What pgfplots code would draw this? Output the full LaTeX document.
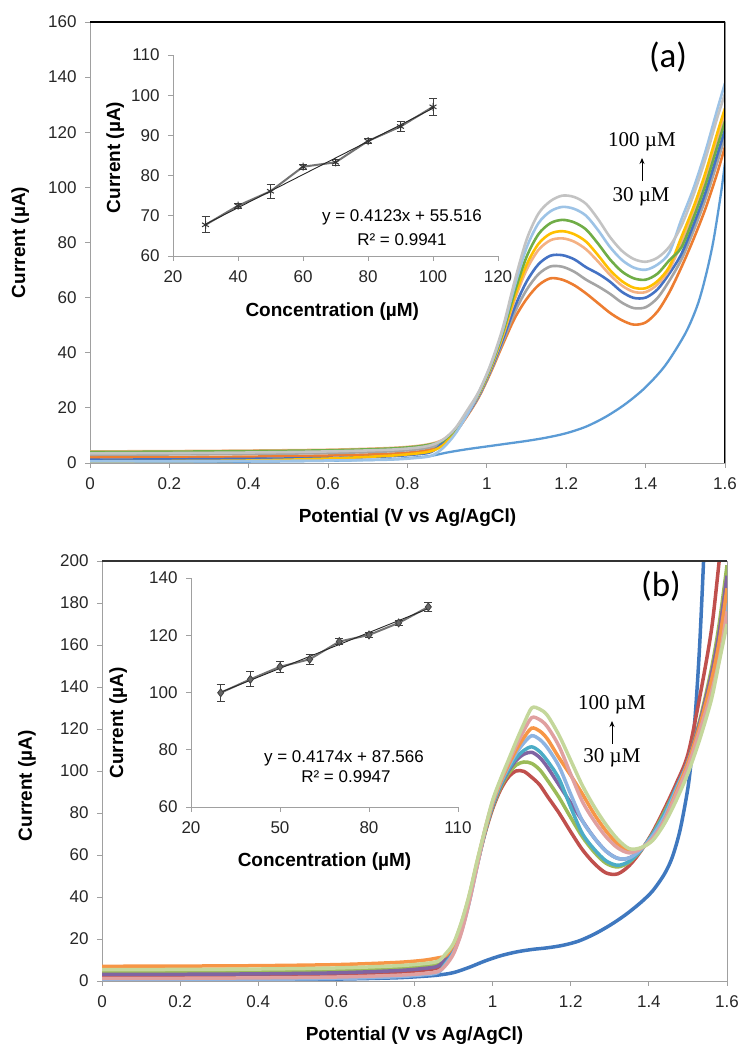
\documentclass[border=0pt]{standalone}
\usepackage{pgfplots}
\usepackage{pgfplotstable}
\pgfplotsset{compat=1.18}
\usetikzlibrary{arrows.meta}
\usepackage{fontspec}
\setmainfont{Liberation Sans}
\newfontfamily\seriffont{Liberation Serif}
\newfontfamily\calibfont{Carlito}

% panel (a) colours
\definecolor{aBlank}{HTML}{5B9BD5}
\definecolor{aOrange}{HTML}{ED7D31}
\definecolor{aGray}{HTML}{A5A5A5}
\definecolor{aBlue}{HTML}{4472C4}
\definecolor{aPink}{HTML}{F4B183}
\definecolor{aYellow}{HTML}{FFC000}
\definecolor{aGreen}{HTML}{70AD47}
\definecolor{aLBlue}{HTML}{9DC3E6}
\definecolor{aLGray}{HTML}{C3C3C3}
% panel (b) colours
\definecolor{bBlank}{HTML}{3F78BF}
\definecolor{bRed}{HTML}{C0504D}
\definecolor{bGreen}{HTML}{9BBB59}
\definecolor{bPurple}{HTML}{8064A2}
\definecolor{bTeal}{HTML}{4BACC6}
\definecolor{bLBlue}{HTML}{8DB4E2}
\definecolor{bOrange}{HTML}{F79646}
\definecolor{bPink}{HTML}{E0A0A0}
\definecolor{bLGreen}{HTML}{C4D79B}
\definecolor{axgray}{HTML}{A0A0A0}

\pgfplotstableread{
V     c30   c40   c50   c60   c70   c80   c90   c100
0.00  2.0   3.0   1.2   4.2   0.6   4.0   0.6   3.5
0.20  2.1   3.1   1.3   4.3   0.7   4.1   0.6   3.6
0.40  2.3   3.3   1.5   4.5   0.9   4.3   0.7   3.8
0.60  2.7   3.6   1.8   4.8   1.6   4.6   0.9   4.2
0.75  3.3   4.2   2.4   5.4   2.6   5.2   1.2   4.8
0.82  4.0   4.9   3.1   6.1   3.4   5.9   1.8   5.5
0.86  5.0   5.8   4.0   7.0   4.3   6.8   2.6   6.5
0.89  7.0   7.2   7.4   8.5   6.5   8.1   5.5   8.5
0.92  11    11.2  11.4  12    11.5  12.1  10.5  12.5
0.95  17    17.3  17.6  18.0  18.2  18.4  17.5  19
0.98  24    24.3  24.6  25.0  25.2  25.4  25.7  26
1.01  33    33.5  33.9  34.5  34.7  35.1  35.6  36
1.04  43    43.9  44.8  46.0  46.5  47.3  48.2  49
1.07  52.5  54.6  56.5  59.2  60.3  62.1  64.2  66
1.10  59.5  62.8  65.8  70.1  71.9  74.8  78.1  81
1.13  64.5  68.5  72.1  77.3  79.5  83.0  87.0  90.5
1.16  67    71.3  75.2  80.8  83.2  87.0  91.3  95
1.19  66.5  71.2  75.4  81.5  84.1  88.2  92.9  97
1.22  64.5  69.4  73.9  80.3  83.0  87.3  92.2  96.5
1.25  61.5  66.5  71.0  77.5  80.3  84.7  89.7  94
1.28  58    64.1  68.7  73.1  75.4  79.6  84.5  88.5
1.31  54.5  61.4  65.8  68.3  70.0  73.9  78.4  82
1.34  51.8  58.2  62.1  64.4  66.0  69.5  73.7  77
1.37  50.2  56.2  59.9  62.1  63.6  67.0  70.9  74
1.40  51    56.5  60.0  62    63.4  66.5  70.1  73
1.43  55    59.9  63.0  64.8  66    68.7  72    74.5
1.46  62    66.2  68.8  70.3  71.3  73.6  76.4  78.5
1.49  71    73.8  75.8  79.8  81.9  78.2  88.3  86
1.52  81    84    86.2  90.3  92.6  88.7  99.4  97
1.55  92    95.4  97.8  102.5 105   100.6 112.7 110
1.58  105   108.8 111.5 116.7 119.5 114.6 128   125
1.60  114.8 118.4 121   126   128.7 124   137.8 134
}\tableA

\pgfplotstableread{
V     c30   c40   c50   c60   c70   c80   c90   c100
0.00  2.3   4.2   3.1   0.8   0.5   7.0   1.2   5.4
0.20  2.4   4.3   3.2   0.9   0.6   7.1   1.3   5.5
0.40  2.6   4.5   3.4   1.1   0.8   7.3   1.5   5.7
0.60  3.1   5.0   3.9   1.5   1.2   7.8   1.9   6.2
0.75  4.1   6.0   4.9   2.3   2.0   8.8   2.7   7.2
0.82  5.1   7.0   5.9   3.2   2.9   9.8   3.5   8.2
0.86  6.3   8.2   7.1   4.3   4.0   11    4.5   9.4
0.88  10    10.6  11.1  8.5   8     12.1  7.5   13
0.90  16    16.4  16.7  14    13.5  17.4  13    18
0.92  26    26.4  26.7  24    23.5  27.4  23    28
0.94  39    39.4  39.7  38    37.5  40.4  37.5  41
0.96  55    55.4  55.7  55    54.5  56.4  54.5  57
0.98  70    70.4  70.7  70.9  71.2  71.4  71.7  72
1.00  82    82.8  83.4  83.8  84.4  84.8  85.4  86
1.02  91    92    92.8  93.2  94    94.6  95.3  96
1.04  97    98.6  99.9  100.5 101.8 102.7 103.9 105
1.06  100   102.8 105.0 106.2 108.4 109.9 112   114
1.08  99.8  104.3 108.0 109.8 113.4 115.9 119.3 122.5
1.10  97    103.6 108.9 111.5 116.8 120.4 125.4 130
1.12  93.5  100.7 106.5 109.3 115.1 119.1 124.5 129.5
1.14  88    95.7  101.9 104.9 111.1 115.3 121.1 126.5
1.17  80    87.4  93.3  96.3  102.2 106.3 111.8 117
1.20  71    77.8  84.8  82.7  88.9  97.9  98.4  105
1.23  62.5  68.6  76.2  70.1  76.2  89.0  85.4  93
1.26  56    61.4  68.2  62.75 68.2  79.5  76.25 83
1.29  51.5  56.1  61.9  57.25 61.85 71.5  68.75 74.5
1.32  51    54.3  58.4  55.1  58.4  65.4  63.4  67.5
1.35  55    56.6  58.6  57    58.6  62    61    63
1.38  62    62.3  62.7  62.4  62.7  63.3  63.1  63.5
1.41  71    70.2  69.2  70    69.2  67.5  68    67
1.44  82    80.6  79.2  79.6  78.3  76.5  76.4  75
1.47  94    92    92    92    91    90    89    86
1.50  108   105   105   104   104   104   102   99
1.53  135   124   123   121   120   121.5 119   115
1.56  167   148.5 146   141.5 139.5 143   137.5 134
1.58  200   170   166   159   156   161.5 153   152
1.60  235   198   193   184   180   187   176   170
}\tableB

\pgfplotsset{
  mainax/.style={
    scale only axis, anchor=south west,
    /pgf/number format/assume math mode=true,
    axis line style={draw=axgray, line width=0.9pt},
    tick align=outside, major tick length=5pt,
    tick style={draw=axgray, line width=0.9pt},
    xtick pos=bottom, ytick pos=left,
    ticklabel style={font=\fontsize{17}{20}\selectfont, text=black!85},
    label style={font=\bfseries\fontsize{19}{22}\selectfont},
    xlabel={Potential (V vs Ag/AgCl)}, ylabel={Current (µA)},
    xmin=0, xmax=1.6, xtick={0,0.2,0.4,0.6,0.8,1,1.2,1.4,1.6},
    yticklabel style={xshift=-5pt}, xticklabel style={yshift=-6pt},
  },
  inax/.style={
    scale only axis, anchor=south west,
    /pgf/number format/assume math mode=true,
    axis lines*=left,
    axis line style={draw=axgray, line width=0.9pt},
    tick align=outside, major tick length=5pt,
    tick style={draw=axgray, line width=0.9pt},
    ticklabel style={font=\fontsize{17}{20}\selectfont, text=black!85},
    label style={font=\bfseries\fontsize{19}{22}\selectfont},
    xlabel={Concentration (µM)}, ylabel={Current (µA)},
    yticklabel style={xshift=-5pt}, xticklabel style={yshift=-6pt},
  },
  acurve/.style={line width=2.6pt, smooth, tension=0.5, mark=none},
  bcurve/.style={line width=3.5pt, smooth, tension=0.5, mark=none},
}

\begin{document}
\begin{tikzpicture}
\useasboundingbox (0pt,0pt) rectangle (743pt,1048pt);

% ---------------- panel (a) main ----------------
\begin{axis}[mainax, at={(90pt,585pt)}, width=635pt, height=441pt,
  ymin=0, ymax=160, ytick={0,20,...,160},
  xlabel style={at={(axis description cs:0.5,-0.125)}, anchor=center},
  ylabel style={at={(axis description cs:-0.11,0.5)}, anchor=center}]
\addplot[acurve, color=aBlank, line width=2.3pt] coordinates {
(0,0.3)(0.2,0.4)(0.4,0.5)(0.6,0.8)(0.75,1.3)(0.82,2)(0.86,2.6)(0.9,3.8)(0.95,5)(1.0,6)(1.05,7)(1.1,8)(1.15,9.2)(1.2,10.8)(1.25,13.2)(1.3,16.8)(1.35,21.5)(1.4,27.5)(1.45,35.5)(1.5,47)(1.53,57)(1.55,67)(1.57,80)(1.59,98)(1.6,109)};
\addplot[acurve, color=aOrange] table[x=V, y=c30] {\tableA};
\addplot[acurve, color=aGray] table[x=V, y=c40] {\tableA};
\addplot[acurve, color=aBlue] table[x=V, y=c50] {\tableA};
\addplot[acurve, color=aPink] table[x=V, y=c60] {\tableA};
\addplot[acurve, color=aYellow] table[x=V, y=c70] {\tableA};
\addplot[acurve, color=aGreen] table[x=V, y=c80] {\tableA};
\addplot[acurve, color=aLBlue] table[x=V, y=c90] {\tableA};
\addplot[acurve, color=aLGray] table[x=V, y=c100] {\tableA};
\draw[black, line width=1.3pt] (rel axis cs:0,1) -- (rel axis cs:1,1) -- (rel axis cs:1,0);
\end{axis}

% ---------------- panel (a) inset ----------------
\begin{axis}[inax, at={(173pt,792pt)}, width=325pt, height=201pt,
  xmin=20, xmax=120, ymin=60, ymax=110,
  xtick={20,40,...,120}, ytick={60,70,...,110},
  xlabel style={at={(axis description cs:0.49,-0.277)}, anchor=center},
  ylabel style={at={(axis description cs:-0.178,0.49)}, anchor=center}]
\addplot[black!55, line width=2pt, mark=asterisk, mark size=4pt,
  mark options={solid, black!80, line width=1pt},
  error bars/.cd, y dir=both, y explicit,
  error bar style={line width=1pt, black!75},
  error mark options={rotate=90, mark size=4pt, line width=1pt, black!75}]
  coordinates {(30,67.75) +- (0,2.0) (40,72.5) +- (0,0.6) (50,76.1) +- (0,1.8) (60,82.2) +- (0,0.6)
  (70,83.3) +- (0,0.8) (80,88.6) +- (0,0.6) (90,92.2) +- (0,1.2) (100,97.1) +- (0,2.2)};
\addplot[black!85, line width=0.9pt, mark=none] coordinates {(30,67.885) (100,96.746)};
\end{axis}

% ---------------- panel (b) main ----------------
\begin{axis}[mainax, at={(102pt,67pt)}, width=625pt, height=420pt,
  ymin=0, ymax=200, ytick={0,20,...,200},
  xlabel style={at={(axis description cs:0.5,-0.129)}, anchor=center},
  ylabel style={at={(axis description cs:-0.12,0.465)}, anchor=center}]
\addplot[bcurve, color=bBlank] coordinates {
(0,0.2)(0.2,0.3)(0.4,0.5)(0.6,0.9)(0.75,1.5)(0.82,2.2)(0.86,2.8)(0.9,4.0)(0.94,6.5)(0.98,9.5)(1.02,12)(1.06,13.8)(1.1,15)(1.14,15.8)(1.18,17)(1.22,19)(1.26,22.3)(1.3,26.5)(1.34,31.5)(1.38,37.5)(1.41,43)(1.44,51)(1.46,59)(1.48,72)(1.5,92)(1.51,108)(1.52,130)(1.53,160)(1.54,200)(1.55,245)};
\addplot[bcurve, color=bRed] table[x=V, y=c30] {\tableB};
\addplot[bcurve, color=bGreen] table[x=V, y=c40] {\tableB};
\addplot[bcurve, color=bPurple] table[x=V, y=c50] {\tableB};
\addplot[bcurve, color=bTeal] table[x=V, y=c60] {\tableB};
\addplot[bcurve, color=bLBlue] table[x=V, y=c70] {\tableB};
\addplot[bcurve, color=bOrange] table[x=V, y=c80] {\tableB};
\addplot[bcurve, color=bPink] table[x=V, y=c90] {\tableB};
\addplot[bcurve, color=bLGreen] table[x=V, y=c100] {\tableB};
\draw[black!80, line width=1.3pt] (rel axis cs:0,1) -- (rel axis cs:1,1);
\draw[axgray, line width=1pt] (rel axis cs:1,1) -- (rel axis cs:1,0);
\end{axis}

% ---------------- panel (b) inset ----------------
\begin{axis}[inax, at={(191pt,241pt)}, width=267pt, height=229pt,
  xmin=20, xmax=110, ymin=60, ymax=140,
  xtick={20,50,80,110}, ytick={60,80,...,140},
  xlabel style={at={(axis description cs:0.5,-0.24)}, anchor=center},
  ylabel style={at={(axis description cs:-0.273,0.367)}, anchor=center}]
\addplot[black!55, line width=2pt, mark=diamond*, mark size=4pt,
  mark options={solid, fill=black!60, draw=black!75, line width=0.8pt},
  error bars/.cd, y dir=both, y explicit,
  error bar style={line width=1pt, black!75},
  error mark options={rotate=90, mark size=4pt, line width=1pt, black!75}]
  coordinates {(30,99.9) +- (0,2.9) (40,104.6) +- (0,2.6) (50,109.0) +- (0,1.9) (60,111.6) +- (0,1.7)
  (70,117.8) +- (0,1.0) (80,120.1) +- (0,1.0) (90,124.3) +- (0,1.0) (100,129.9) +- (0,1.5)};
\addplot[black!85, line width=0.9pt, mark=none] coordinates {(30,100.088) (100,129.306)};
\end{axis}

% ---------------- annotations ----------------
\node[font=\calibfont\fontsize{35}{40}\selectfont] at (668pt,991pt) {(a)};
\node[font=\seriffont\fontsize{21}{24}\selectfont] at (642pt,906pt) {100 µM};
\draw[black, line width=0.9pt, -{Stealth[length=6pt,width=5pt]}] (642pt,867pt) -- (642pt,890pt);
\node[font=\seriffont\fontsize{21}{24}\selectfont] at (641pt,851pt) {30 µM};
\node[font=\fontsize{17}{20}\selectfont] at (402pt,831pt) {y = 0.4123x + 55.516};
\node[font=\fontsize{17}{20}\selectfont] at (402pt,808pt) {R² = 0.9941};

\node[font=\calibfont\fontsize{35}{40}\selectfont] at (661pt,462pt) {(b)};
\node[font=\seriffont\fontsize{21}{24}\selectfont] at (612pt,343pt) {100 µM};
\draw[black, line width=0.9pt, -{Stealth[length=6pt,width=5pt]}] (612pt,304pt) -- (612pt,327pt);
\node[font=\seriffont\fontsize{21}{24}\selectfont] at (612pt,290pt) {30 µM};
\node[font=\fontsize{17}{20}\selectfont] at (344pt,290pt) {y = 0.4174x + 87.566};
\node[font=\fontsize{17}{20}\selectfont] at (346pt,271pt) {R² = 0.9947};
\end{tikzpicture}
\end{document}
